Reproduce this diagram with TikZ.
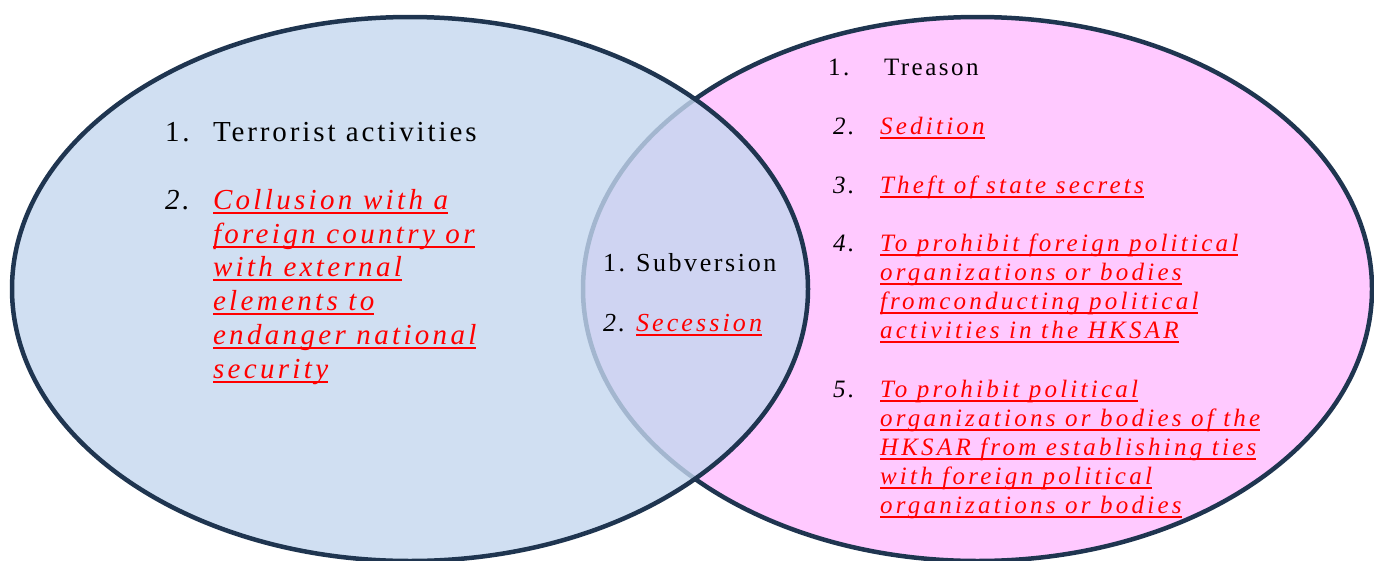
\documentclass[tikz,border=0pt]{standalone}
\usepackage{fontspec}
\setmainfont{Liberation Serif}[LetterSpace=10]
\newfontfamily\itL{Liberation Serif}[LetterSpace=11.5]
\newfontfamily\itM{Liberation Serif}[LetterSpace=12]
\newfontfamily\itR{Liberation Serif}[LetterSpace=13]
\definecolor{edgecol}{RGB}{31,53,80}
\definecolor{bluefill}{RGB}{196,215,239}
\definecolor{pinkfill}{RGB}{255,201,255}
\definecolor{redtext}{RGB}{255,0,0}
\newcommand\redul[1]{\setbox0\hbox{#1}\rlap{\color{redtext}\rule[-4.5pt]{\wd0}{2pt}}\box0}
\tikzset{
  txt/.style={anchor=base west, inner sep=0pt, outer sep=0pt},
  fL/.style={font=\fontsize{29}{33.8}\selectfont},
  fM/.style={font=\fontsize{26}{31}\selectfont},
  fR/.style={font=\fontsize{25}{29}\selectfont},
  numup/.style={txt, text=black},
  numit/.style={txt, text=black},
  redit/.style={txt, text=redtext},
  redL/.style={redit, font=\fontsize{29}{33.8}\itL\itshape},
  redM/.style={redit, font=\fontsize{26}{31}\itM\itshape},
  redR/.style={redit, font=\fontsize{25}{29}\itR\itshape},
  circ/.style={draw=edgecol, line width=4.5pt},
}
\begin{document}
\begin{tikzpicture}[x=1pt,y=-1pt]
\useasboundingbox (0,0) rectangle (1374,560);
\clip (0,0) rectangle (1374,560);
% ellipses
\draw[circ, fill=pinkfill] (977.5,289) ellipse [x radius=394.5pt, y radius=272pt];
\draw[circ, fill=bluefill, fill opacity=0.8] (410,289) ellipse [x radius=398pt, y radius=272pt];
% left set
\node[numup, fL] (l1n) at (165,141) {1.};
\node[txt, fL] (l1) at (213,141) {Terrorist activities};
\node[numit, font=\fontsize{29}{33.8}\selectfont\itshape] (l2n) at (165,209) {2.};
\foreach \y/\t [count=\k] in {209/{Collusion with a},243/{foreign country or},276.5/{with external},310/{elements to},344/{endanger national},378/{security}}
  \node[redL] (l2x\k) at (213,\y) {\redul{\t}};
% middle
\node[numup, fM] (m1n) at (603,271) {1.};
\node[txt, fM] (m1) at (636,271) {Subversion};
\node[numit, font=\fontsize{26}{31}\selectfont\itshape] (m2n) at (603,331) {2.};
\node[redM] (m2) at (636,331) {\redul{Secession}};
% right set
\node[numup, fR] (r1n) at (828,75) {1.};
\node[txt, fR] (r1) at (884,75) {Treason};
\node[numit, font=\fontsize{25}{29}\selectfont\itshape] (r2n) at (833,134) {2.};
\node[redR] (r2) at (880,134) {\redul{Sedition}};
\node[numit, font=\fontsize{25}{29}\selectfont\itshape] (r3n) at (833,193) {3.};
\node[redR] (r3) at (880,193) {\redul{Theft of state secrets}};
\node[numit, font=\fontsize{25}{29}\selectfont\itshape] (r4n) at (833,251) {4.};
\foreach \y/\t [count=\k] in {251/{To prohibit foreign political},280/{organizations or bodies},309/{fromconducting political},338/{activities in the HKSAR}}
  \node[redR] (r4x\k) at (880,\y) {\redul{\t}};
\node[numit, font=\fontsize{25}{29}\selectfont\itshape] (r5n) at (833,397) {5.};
\foreach \y/\t [count=\k] in {397/{To prohibit political},426/{organizations or bodies of the},455/{HKSAR from establishing ties},484/{with foreign political},513/{organizations or bodies}}
  \node[redR] (r5x\k) at (880,\y) {\redul{\t}};
\end{tikzpicture}
\end{document}
